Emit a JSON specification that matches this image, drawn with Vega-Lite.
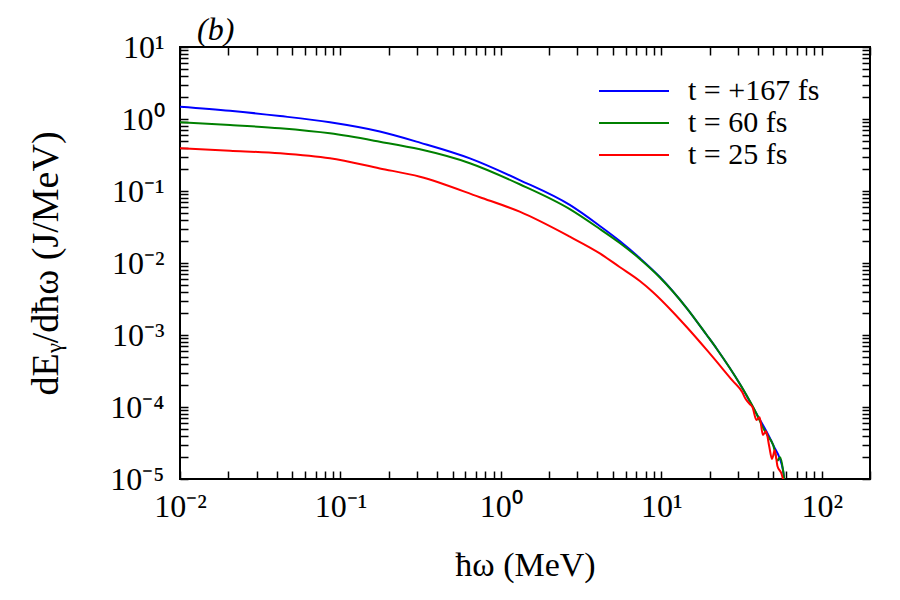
{
  "$schema": "https://vega.github.io/schema/vega-lite/v6.json",
  "autosize": {"type": "none"},
  "padding": {"left": 180, "top": 47, "right": 30, "bottom": 121},
  "width": 690,
  "height": 432,
  "title": {"text": "(b)", "anchor": "start", "frame": "group", "dx": 17, "dy": 22, "offset": 6},
  "data": {
    "values": [
      {"s": "t = +167 fs", "e": 0.01, "v": 1.48},
      {"s": "t = +167 fs", "e": 0.0205, "v": 1.30},
      {"s": "t = +167 fs", "e": 0.042, "v": 1.10},
      {"s": "t = +167 fs", "e": 0.086, "v": 0.90},
      {"s": "t = +167 fs", "e": 0.176, "v": 0.67},
      {"s": "t = +167 fs", "e": 0.313, "v": 0.47},
      {"s": "t = +167 fs", "e": 0.641, "v": 0.284},
      {"s": "t = +167 fs", "e": 1.31, "v": 0.142},
      {"s": "t = +167 fs", "e": 2.69, "v": 0.064},
      {"s": "t = +167 fs", "e": 4.14, "v": 0.0327},
      {"s": "t = +167 fs", "e": 5.51, "v": 0.0202},
      {"s": "t = +167 fs", "e": 7.35, "v": 0.0117},
      {"s": "t = +167 fs", "e": 9.8, "v": 0.0064},
      {"s": "t = +167 fs", "e": 14.4, "v": 0.00237},
      {"s": "t = +167 fs", "e": 19.2, "v": 0.001},
      {"s": "t = +167 fs", "e": 22.2, "v": 0.00064},
      {"s": "t = +167 fs", "e": 30.9, "v": 0.000209},
      {"s": "t = +167 fs", "e": 39.3, "v": 0.00008},
      {"s": "t = +167 fs", "e": 49.8, "v": 0.0000297},
      {"s": "t = +167 fs", "e": 57.4, "v": 0.0000133},
      {"s": "t = +167 fs", "e": 58.5, "v": 0.0000095},
      {"s": "t = 60 fs", "e": 0.01, "v": 0.90},
      {"s": "t = 60 fs", "e": 0.0205, "v": 0.826},
      {"s": "t = 60 fs", "e": 0.042, "v": 0.743},
      {"s": "t = 60 fs", "e": 0.086, "v": 0.632},
      {"s": "t = 60 fs", "e": 0.176, "v": 0.484},
      {"s": "t = 60 fs", "e": 0.313, "v": 0.379},
      {"s": "t = 60 fs", "e": 0.641, "v": 0.243},
      {"s": "t = 60 fs", "e": 1.31, "v": 0.124},
      {"s": "t = 60 fs", "e": 2.69, "v": 0.056},
      {"s": "t = 60 fs", "e": 4.14, "v": 0.0297},
      {"s": "t = 60 fs", "e": 5.51, "v": 0.019},
      {"s": "t = 60 fs", "e": 7.35, "v": 0.0114},
      {"s": "t = 60 fs", "e": 9.8, "v": 0.0063},
      {"s": "t = 60 fs", "e": 14.4, "v": 0.00237},
      {"s": "t = 60 fs", "e": 19.2, "v": 0.001},
      {"s": "t = 60 fs", "e": 22.2, "v": 0.00064},
      {"s": "t = 60 fs", "e": 30.9, "v": 0.000209},
      {"s": "t = 60 fs", "e": 39.3, "v": 0.00008},
      {"s": "t = 60 fs", "e": 43, "v": 0.000052},
      {"s": "t = 60 fs", "e": 46, "v": 0.00004},
      {"s": "t = 60 fs", "e": 49.8, "v": 0.0000297},
      {"s": "t = 60 fs", "e": 53, "v": 0.000018},
      {"s": "t = 60 fs", "e": 55, "v": 0.00002},
      {"s": "t = 60 fs", "e": 57.4, "v": 0.0000133},
      {"s": "t = 60 fs", "e": 58.5, "v": 0.0000095},
      {"s": "t = 25 fs", "e": 0.01, "v": 0.392},
      {"s": "t = 25 fs", "e": 0.0205, "v": 0.363},
      {"s": "t = 25 fs", "e": 0.042, "v": 0.334},
      {"s": "t = 25 fs", "e": 0.086, "v": 0.284},
      {"s": "t = 25 fs", "e": 0.176, "v": 0.206},
      {"s": "t = 25 fs", "e": 0.313, "v": 0.158},
      {"s": "t = 25 fs", "e": 0.74, "v": 0.082},
      {"s": "t = 25 fs", "e": 1.31, "v": 0.0516},
      {"s": "t = 25 fs", "e": 2.69, "v": 0.0232},
      {"s": "t = 25 fs", "e": 4.14, "v": 0.0136},
      {"s": "t = 25 fs", "e": 5.5, "v": 0.0088},
      {"s": "t = 25 fs", "e": 7.35, "v": 0.00562},
      {"s": "t = 25 fs", "e": 8.85, "v": 0.00396},
      {"s": "t = 25 fs", "e": 11.8, "v": 0.00209},
      {"s": "t = 25 fs", "e": 14.4, "v": 0.00129},
      {"s": "t = 25 fs", "e": 19.2, "v": 0.00062},
      {"s": "t = 25 fs", "e": 27.9, "v": 0.00023},
      {"s": "t = 25 fs", "e": 32, "v": 0.00016},
      {"s": "t = 25 fs", "e": 33.5, "v": 0.00013},
      {"s": "t = 25 fs", "e": 35.6, "v": 0.00011},
      {"s": "t = 25 fs", "e": 37, "v": 0.0001},
      {"s": "t = 25 fs", "e": 39.2, "v": 0.000066},
      {"s": "t = 25 fs", "e": 41, "v": 0.000072},
      {"s": "t = 25 fs", "e": 43, "v": 0.000041},
      {"s": "t = 25 fs", "e": 45, "v": 0.000046},
      {"s": "t = 25 fs", "e": 47, "v": 0.000029},
      {"s": "t = 25 fs", "e": 49, "v": 0.000019},
      {"s": "t = 25 fs", "e": 51, "v": 0.000025},
      {"s": "t = 25 fs", "e": 53, "v": 0.000015},
      {"s": "t = 25 fs", "e": 56, "v": 0.000012},
      {"s": "t = 25 fs", "e": 58, "v": 0.000009}
    ]
  },
  "layer": [
    {
      "mark": {"type": "line", "strokeWidth": 2, "clip": true, "interpolate": "monotone"},
      "encoding": {
        "x": {
          "field": "e", "type": "quantitative",
          "scale": {"type": "log", "domain": [0.01, 200], "nice": false},
          "axis": {
            "orient": "bottom",
            "title": "ħω (MeV)",
            "values": [0.01, 0.02, 0.03, 0.04, 0.05, 0.06, 0.07, 0.08, 0.09, 0.1, 0.2, 0.3, 0.4, 0.5, 0.6, 0.7, 0.8, 0.9, 1, 2, 3, 4, 5, 6, 7, 8, 9, 10, 20, 30, 40, 50, 60, 70, 80, 90, 100, 200],
            "labelExpr": "datum.value == 0.01 ? '10⁻²' : datum.value == 0.1 ? '10⁻¹' : datum.value == 1 ? '10⁰' : datum.value == 10 ? '10¹' : datum.value == 100 ? '10²' : ''",
            "labelPadding": 20,
            "titlePadding": 26,
            "titleFontSize": 34
          }
        },
        "y": {
          "field": "v", "type": "quantitative",
          "scale": {"type": "log", "domain": [0.00001, 10], "nice": false},
          "axis": {
            "orient": "left",
            "title": "dEᵧ/dħω (J/MeV)",
            "values": [0.00001, 0.00002, 0.00003, 0.00004, 0.00005, 0.00006, 0.00007, 0.00008, 0.00009, 0.0001, 0.0002, 0.0003, 0.0004, 0.0005, 0.0006, 0.0007, 0.0008, 0.0009, 0.001, 0.002, 0.003, 0.004, 0.005, 0.006, 0.007, 0.008, 0.009, 0.01, 0.02, 0.03, 0.04, 0.05, 0.06, 0.07, 0.08, 0.09, 0.1, 0.2, 0.3, 0.4, 0.5, 0.6, 0.7, 0.8, 0.9, 1, 2, 3, 4, 5, 6, 7, 8, 9, 10],
            "labelExpr": "datum.value == 0.00001 ? '10⁻⁵' : datum.value == 0.0001 ? '10⁻⁴' : datum.value == 0.001 ? '10⁻³' : datum.value == 0.01 ? '10⁻²' : datum.value == 0.1 ? '10⁻¹' : datum.value == 1 ? '10⁰' : datum.value == 10 ? '10¹' : ''",
            "labelPadding": 24,
            "titlePadding": 44,
            "titleFontSize": 38
          }
        },
        "color": {
          "field": "s", "type": "nominal",
          "scale": {"domain": ["t = +167 fs", "t = 60 fs", "t = 25 fs"], "range": ["#0000ff", "#008000", "#ff0000"]},
          "legend": {
            "title": null,
            "orient": "none",
            "legendX": 439,
            "legendY": 29,
            "symbolType": "M-5,0H5",
            "symbolSize": 196,
            "symbolStrokeWidth": 2,
            "labelOffset": 39,
            "labelFontSize": 30,
            "labelFont": "Liberation Serif",
            "labelColor": "black",
            "rowPadding": 2,
            "padding": 0
          }
        }
      }
    },
    {
      "mark": {"type": "line", "strokeOpacity": 0, "clip": true},
      "encoding": {
        "x": {
          "field": "e", "type": "quantitative",
          "axis": {
            "orient": "top", "title": null, "labels": false,
            "values": [0.01, 0.02, 0.03, 0.04, 0.05, 0.06, 0.07, 0.08, 0.09, 0.1, 0.2, 0.3, 0.4, 0.5, 0.6, 0.7, 0.8, 0.9, 1, 2, 3, 4, 5, 6, 7, 8, 9, 10, 20, 30, 40, 50, 60, 70, 80, 90, 100, 200]
          }
        },
        "y": {
          "field": "v", "type": "quantitative",
          "axis": {
            "orient": "right", "title": null, "labels": false,
            "values": [0.00001, 0.00002, 0.00003, 0.00004, 0.00005, 0.00006, 0.00007, 0.00008, 0.00009, 0.0001, 0.0002, 0.0003, 0.0004, 0.0005, 0.0006, 0.0007, 0.0008, 0.0009, 0.001, 0.002, 0.003, 0.004, 0.005, 0.006, 0.007, 0.008, 0.009, 0.01, 0.02, 0.03, 0.04, 0.05, 0.06, 0.07, 0.08, 0.09, 0.1, 0.2, 0.3, 0.4, 0.5, 0.6, 0.7, 0.8, 0.9, 1, 2, 3, 4, 5, 6, 7, 8, 9, 10]
          }
        },
        "detail": {"field": "s", "type": "nominal"}
      }
    }
  ],
  "resolve": {"axis": {"x": "independent", "y": "independent"}},
  "config": {
    "view": {"stroke": "black", "strokeWidth": 2},
    "title": {"fontSize": 32, "font": "Liberation Serif", "fontStyle": "italic", "fontWeight": "normal", "color": "black"},
    "axis": {
      "grid": false,
      "domain": false,
      "tickColor": "black",
      "tickSize": -8,
      "tickWidth": 1.5,
      "labelOverlap": false,
      "labelFlush": false,
      "labelFont": "Liberation Serif",
      "labelFontSize": 32,
      "labelColor": "black",
      "titleFont": "Liberation Serif",
      "titleFontSize": 30,
      "titleFontWeight": "normal",
      "titleColor": "black"
    }
  }
}
